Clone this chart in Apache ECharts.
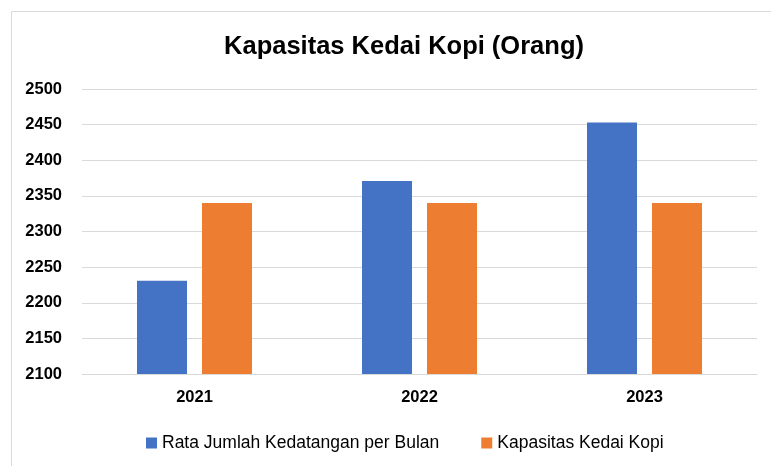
<!DOCTYPE html>
<html>
<head>
<meta charset="utf-8">
<script src="https://cdn.jsdelivr.net/npm/echarts@6/dist/echarts.min.js"></script>
<style>
  html, body { margin: 0; padding: 0; background: #fff; }
  #chart { width: 771px; height: 466px; }
</style>
</head>
<body>
<div id="chart"></div>
<script>
var years = ['2021', '2022', '2023'];
var kedatangan = [2231, 2371, 2453];
var kapasitas = [2340, 2340, 2340];
var seriesNames = ['Rata Jumlah Kedatangan per Bulan', 'Kapasitas Kedai Kopi'];

var myChart = echarts.init(document.getElementById('chart'));
var font = '"Liberation Sans", Arial, sans-serif';

var option = {
    animation: false,
    textStyle: { fontFamily: font },
    graphic: [{
        type: 'rect',
        shape: { x: 11.5, y: 11.5, width: 800, height: 500 },
        style: { fill: 'none', stroke: '#d9d9d9', lineWidth: 1 },
        silent: true
    }],
    title: {
        text: 'Kapasitas Kedai Kopi (Orang)',
        left: 399,
        textAlign: 'center',
        top: 29,
        textStyle: { fontFamily: font, fontSize: 25.5, fontWeight: 'bold', color: '#000' }
    },
    legend: {
        top: 429,
        left: 141,
        itemWidth: 11,
        itemHeight: 11,
        itemGap: 42,
        icon: 'rect',
        textStyle: { fontFamily: font, fontSize: 17.5, color: '#000' },
        data: seriesNames
    },
    grid: { left: 82, right: 14, top: 89, bottom: 92 },
    xAxis: {
        type: 'category',
        data: years,
        axisLine: { lineStyle: { color: '#d9d9d9' } },
        axisTick: { show: false },
        axisLabel: { color: '#000', fontSize: 16.5, fontWeight: 'bold', margin: 15 }
    },
    yAxis: {
        type: 'value',
        min: 2100,
        max: 2500,
        interval: 50,
        splitLine: { lineStyle: { color: '#d9d9d9' } },
        axisLabel: {
            color: '#000', fontSize: 16.5, fontWeight: 'bold', margin: 20,
            formatter: function (v) { return String(v); }
        }
    },
    series: [
        {
            name: seriesNames[0],
            type: 'bar',
            data: kedatangan,
            barWidth: 50,
            barGap: '30%',
            itemStyle: { color: '#4472C4' }
        },
        {
            name: seriesNames[1],
            type: 'bar',
            data: kapasitas,
            barWidth: 50,
            itemStyle: { color: '#ED7D31' }
        }
    ]
};
myChart.setOption(option);
window.addEventListener('resize', function () {
    myChart.resize();
});
</script>
</body>
</html>
